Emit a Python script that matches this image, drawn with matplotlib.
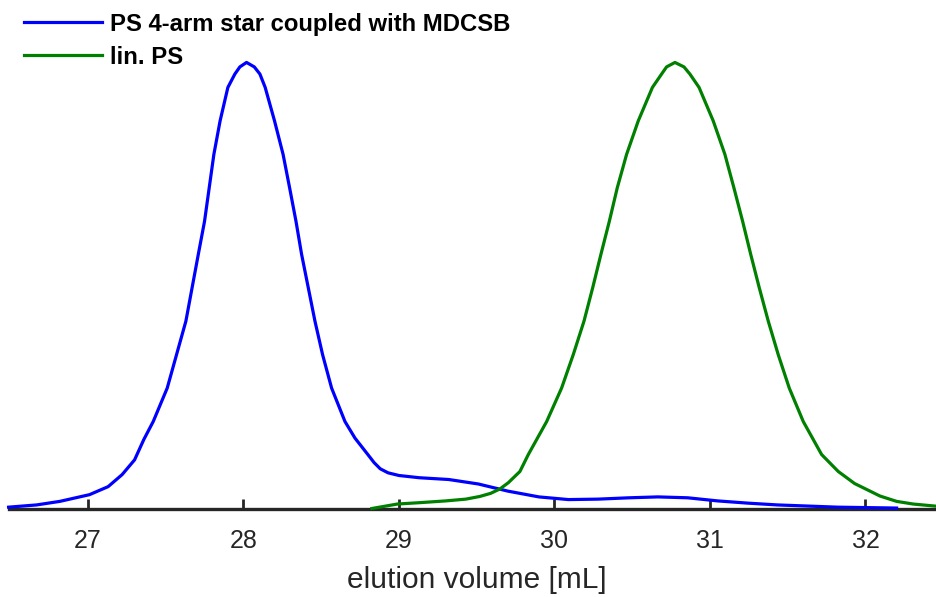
import matplotlib
matplotlib.use("Agg")
import matplotlib.pyplot as plt

plt.rcParams['font.family'] = ['Liberation Sans', 'DejaVu Sans']

# elution volume [mL] and normalised detector signal
star_vol = [26.49, 26.67, 26.82, 27.01, 27.13, 27.22, 27.30, 27.36, 27.42, 27.51,
            27.57, 27.63, 27.67, 27.71, 27.75, 27.78, 27.81, 27.85, 27.90, 27.945,
            27.977, 28.02, 28.07, 28.106, 28.14, 28.20, 28.255, 28.297, 28.338, 28.374,
            28.417, 28.46, 28.509, 28.567, 28.653, 28.717, 28.80, 28.84, 28.88, 28.93,
            29.00, 29.13, 29.32, 29.51, 29.70, 29.90, 30.09, 30.28, 30.48, 30.665,
            30.857, 31.05, 31.245, 31.434, 31.82, 32.20]
star_sig = [0.003, 0.008, 0.016, 0.031, 0.049, 0.076, 0.109, 0.155, 0.195, 0.270,
            0.345, 0.420, 0.495, 0.570, 0.644, 0.719, 0.794, 0.869, 0.944, 0.974,
            0.990, 1.000, 0.990, 0.974, 0.944, 0.869, 0.794, 0.719, 0.644, 0.570,
            0.495, 0.420, 0.345, 0.270, 0.195, 0.158, 0.121, 0.103, 0.089, 0.080,
            0.074, 0.069, 0.065, 0.055, 0.039, 0.026, 0.020, 0.021, 0.024, 0.026,
            0.024, 0.017, 0.012, 0.008, 0.003, 0.001]

lin_vol = [28.826, 28.99, 29.13, 29.30, 29.43, 29.52, 29.59, 29.65, 29.704, 29.778,
           29.832, 29.95, 30.046, 30.121, 30.19, 30.246, 30.299, 30.353, 30.404, 30.464,
           30.539, 30.63, 30.689, 30.721, 30.775, 30.833, 30.871, 30.93, 31.021, 31.096,
           31.154, 31.21, 31.262, 31.317, 31.375, 31.439, 31.51, 31.60, 31.718, 31.825,
           31.93, 32.00, 32.093, 32.20, 32.307, 32.46]
lin_sig = [0.0, 0.010, 0.013, 0.017, 0.021, 0.027, 0.034, 0.044, 0.058, 0.083,
           0.121, 0.195, 0.270, 0.345, 0.420, 0.495, 0.570, 0.644, 0.719, 0.794,
           0.869, 0.944, 0.974, 0.990, 1.000, 0.990, 0.974, 0.944, 0.869, 0.794,
           0.719, 0.644, 0.570, 0.495, 0.420, 0.345, 0.270, 0.195, 0.121, 0.083,
           0.056, 0.044, 0.028, 0.016, 0.010, 0.005]

labels = ['PS 4-arm star coupled with MDCSB', 'lin. PS']
ticks = [27, 28, 29, 30, 31, 32]

fig = plt.figure(figsize=(9.37, 5.97), dpi=100)
ax = fig.add_axes([8.6 / 937, 88.5 / 597, 1 - 8.6 / 937, 508.5 / 597])

ax.plot(star_vol, star_sig, color=(0, 0, 1), lw=2.3, label=labels[0],
        clip_on=False, zorder=3, solid_joinstyle='round')
ax.plot(lin_vol, lin_sig, color=(0, 0.5, 0), lw=2.3, label=labels[1],
        clip_on=False, zorder=3, solid_joinstyle='round')

ax.set_xlim(26.49, 32.46)
ax.set_ylim(0, 1.14)

for s in ['top', 'right', 'left']:
    ax.spines[s].set_visible(False)
ax.spines['bottom'].set_color('#262626')
ax.spines['bottom'].set_linewidth(2.4)
ax.spines['bottom'].set_zorder(2)
ax.set_yticks([])
ax.set_xticks(ticks)
ax.tick_params(axis='x', direction='in', length=7, width=2, color='#262626',
               labelsize=18, labelcolor='#262626', pad=15)
ax.set_xlabel('elution volume [mL]', fontsize=21.5, color='#262626')
ax.xaxis.set_label_coords(0.504, -0.113)

leg = ax.legend(loc='upper left', bbox_to_anchor=(14 / 937, 1 - 3 / 597),
                bbox_transform=fig.transFigure, frameon=False,
                prop={'weight': 'bold', 'size': 17.2}, handlelength=3.3,
                handletextpad=0.33, labelspacing=0.42, borderaxespad=0)

fig.savefig('out.png', dpi=100)
